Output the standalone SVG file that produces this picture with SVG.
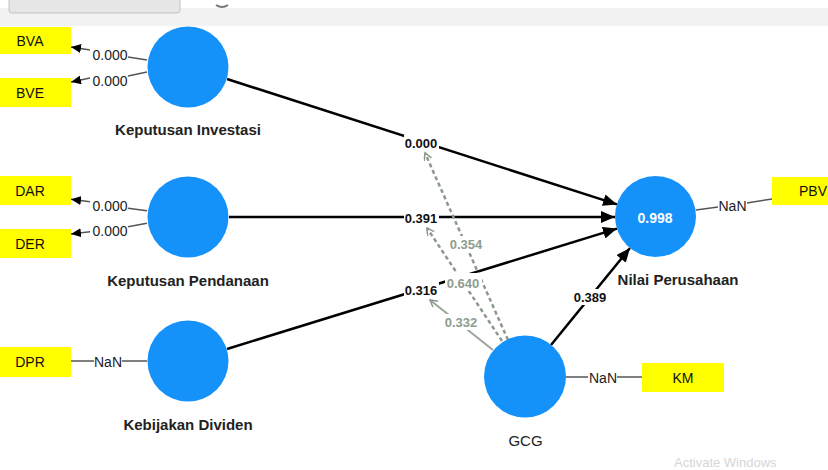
<svg xmlns="http://www.w3.org/2000/svg" width="828" height="470" viewBox="0 0 828 470">
<defs>
<style>
text{font-family:"Liberation Sans",Arial,sans-serif}
.lv{fill:#1592f9}
.ind{fill:#ffff00}
.it{font-size:14px;fill:#111}
.nm{font-size:15px;font-weight:bold;fill:#222;text-anchor:middle}
.w{font-size:14px;fill:#222;text-anchor:middle}
.pl{font-size:13px;font-weight:bold;fill:#111;text-anchor:middle}
.gl{font-size:13px;font-weight:bold;fill:#8e9c8e;text-anchor:middle}
.st{stroke:#000;stroke-width:2.5;fill:none}
.ms{stroke:#555;stroke-width:1.5;fill:none}
.gd{stroke:#8a998a;stroke-width:2.5;fill:none;stroke-dasharray:4 3}
.gs{stroke:#9aa79a;stroke-width:2;fill:none}
.bg{fill:#fff}
</style>
<marker id="ab" markerUnits="userSpaceOnUse" markerWidth="14" markerHeight="12" refX="14" refY="6" orient="auto">
<path d="M0,0 L14,6 L0,12 z" fill="#000"/>
</marker>
<marker id="as" markerUnits="userSpaceOnUse" markerWidth="10" markerHeight="9" refX="10" refY="4.5" orient="auto">
<path d="M0,0 L10,4.5 L0,9 z" fill="#000"/>
</marker>
<marker id="ag" markerUnits="userSpaceOnUse" markerWidth="10" markerHeight="10" refX="8" refY="4" orient="auto">
<path d="M1,0 L8,4 L1,8" fill="none" stroke="#8a998a" stroke-width="1.5"/>
</marker>
</defs>
<rect width="828" height="470" fill="#fff"/>
<g id="topbar">
<rect x="0" y="8" width="828" height="18" fill="#f2f2f2"/>
<rect x="9" y="-4" width="171" height="17" rx="3" fill="#e6e6e6" stroke="#c2c2c2"/>
<path d="M216,5 Q222,9 228,5" stroke="#777" stroke-width="2" fill="none"/>
</g>
<g id="connectors">
<path class="st" d="M227,79 L617,204.4" marker-end="url(#ab)"/>
<path class="st" d="M229,217 L615,217" marker-end="url(#ab)"/>
<path class="st" d="M227,349 L617,228.6" marker-end="url(#ab)"/>
<path class="st" d="M551,345 L630,248" marker-end="url(#ab)"/>
<path class="gd" d="M508,340 L425,153" marker-end="url(#ag)"/>
<path class="gd" d="M502,341 L427,228" marker-end="url(#ag)"/>
<path class="gs" d="M493,350 L430,300" marker-end="url(#ag)"/>
<path class="ms" d="M147,60 L128,57"/>
<path class="ms" d="M90,50 L71,47" marker-end="url(#as)"/>
<path class="ms" d="M147,72 L128,76"/>
<path class="ms" d="M90,78 L71,82" marker-end="url(#as)"/>
<path class="ms" d="M147,210.7 L128,208.3"/>
<path class="ms" d="M90,201.7 L71,199.3" marker-end="url(#as)"/>
<path class="ms" d="M147,223.3 L128,226.7"/>
<path class="ms" d="M90,231.7 L71,234" marker-end="url(#as)"/>
<path class="ms" d="M71,361 L94,361 M122,361 L147,361"/>
<path class="ms" d="M696,210 L718,207 M747,203 L772,199"/>
<path class="ms" d="M566,377 L588,377 M617,377 L642,377"/>
<rect class="bg" x="404" y="135" width="35" height="16"/>
<text class="pl" x="421" y="148">0.000</text>
<rect class="bg" x="404" y="210" width="35" height="16"/>
<text class="pl" x="421" y="223">0.391</text>
<rect class="bg" x="404" y="282" width="35" height="16"/>
<text class="pl" x="421" y="295">0.316</text>
<rect class="bg" x="573" y="289" width="35" height="16"/>
<text class="pl" x="590" y="302">0.389</text>
<rect class="bg" x="448" y="236" width="36" height="16"/>
<text class="gl" x="466" y="249">0.354</text>
<rect class="bg" x="445" y="273" width="37" height="18"/>
<text class="gl" x="463" y="288">0.640</text>
<rect class="bg" x="443" y="314" width="36" height="16"/>
<text class="gl" x="461" y="327">0.332</text>
<text class="w" x="110" y="60">0.000</text>
<text class="w" x="110" y="86">0.000</text>
<text class="w" x="110" y="210.5">0.000</text>
<text class="w" x="110" y="236">0.000</text>
<text class="w" x="108" y="367">NaN</text>
<text class="w" x="732.5" y="210.5">NaN</text>
<text class="w" x="603" y="382.5">NaN</text>
</g>
<g id="KeputusanInvestasi">
<circle class="lv" cx="188" cy="67" r="40.5"/>
<text class="nm" x="188" y="135">Keputusan Investasi</text>
</g>
<g id="KeputusanPendanaan">
<circle class="lv" cx="188" cy="217" r="40.5"/>
<text class="nm" x="188" y="286">Keputusan Pendanaan</text>
</g>
<g id="KebijakanDividen">
<circle class="lv" cx="188" cy="361" r="40.5"/>
<text class="nm" x="188" y="430">Kebijakan Dividen</text>
</g>
<g id="NilaiPerusahaan">
<circle class="lv" cx="655.5" cy="216.5" r="40.5"/>
<text x="655" y="223" style="font-size:14px;font-weight:bold;fill:#fff;text-anchor:middle">0.998</text>
<text class="nm" x="678" y="285">Nilai Perusahaan</text>
</g>
<g id="GCG">
<circle class="lv" cx="525" cy="376.5" r="41"/>
<text class="nm" x="525.5" y="446" style="font-weight:normal">GCG</text>
</g>
<g id="BVA"><rect class="ind" x="-11" y="27" width="82" height="27"/><text class="it" x="30" y="45.5" text-anchor="middle">BVA</text></g>
<g id="BVE"><rect class="ind" x="-11" y="78" width="82" height="29"/><text class="it" x="30" y="97.5" text-anchor="middle">BVE</text></g>
<g id="DAR"><rect class="ind" x="-11" y="176" width="82" height="29"/><text class="it" x="30" y="196" text-anchor="middle">DAR</text></g>
<g id="DER"><rect class="ind" x="-11" y="229" width="82" height="29"/><text class="it" x="30" y="248.5" text-anchor="middle">DER</text></g>
<g id="DPR"><rect class="ind" x="-11" y="347" width="82" height="30"/><text class="it" x="30" y="367" text-anchor="middle">DPR</text></g>
<g id="PBV"><rect class="ind" x="772" y="177" width="82" height="28"/><text class="it" x="813" y="196" text-anchor="middle">PBV</text></g>
<g id="KM"><rect class="ind" x="642" y="363" width="82" height="29"/><text class="it" x="683" y="382.5" text-anchor="middle">KM</text></g>
<text x="674" y="467" style="font-size:13px;fill:#d6d6d6">Activate Windows</text>
</svg>
